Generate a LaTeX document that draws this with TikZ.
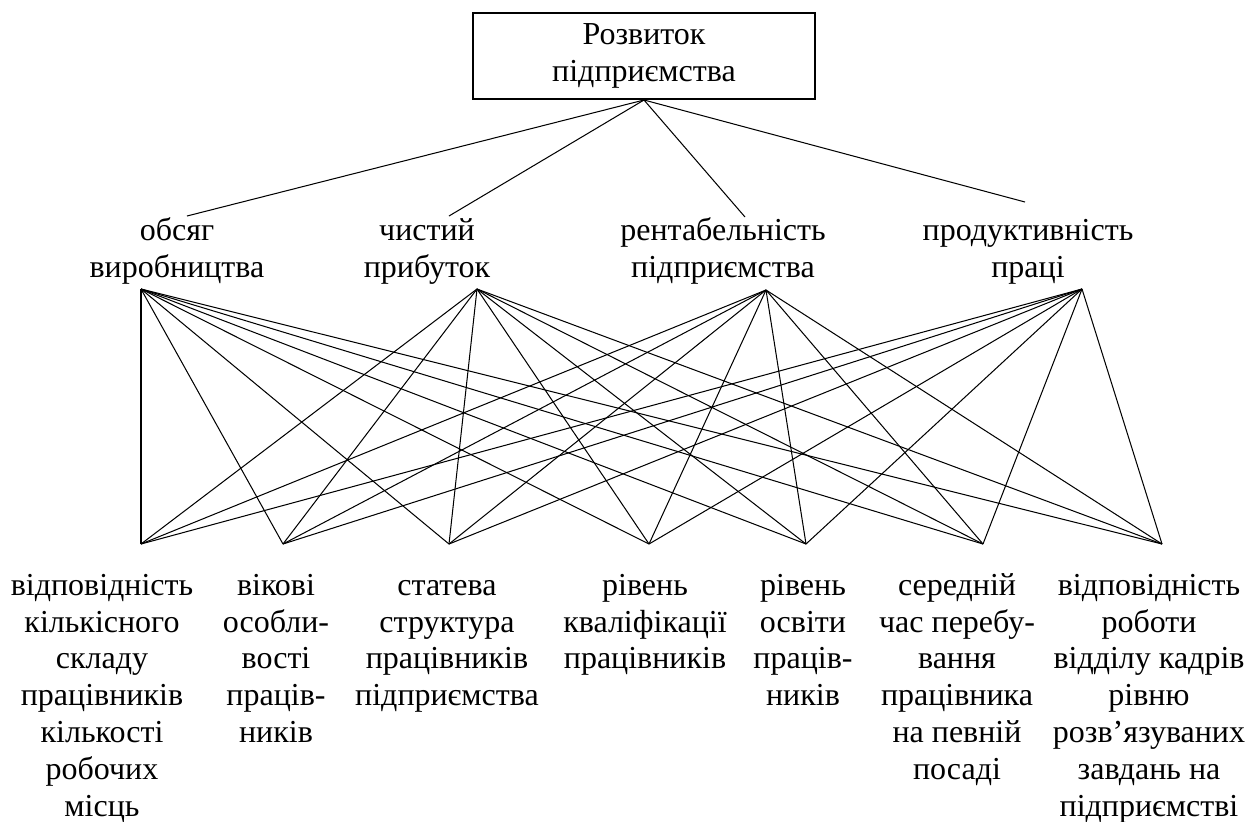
\documentclass[tikz,border=0pt]{standalone}
\usepackage{fontspec}
\setmainfont{Liberation Serif}
\usepackage{tikz}
\tikzset{
	lbl/.style={align=center, anchor=north, inner sep=0pt, font=\fontsize{14}{16.1}\selectfont},
	link/.style={line width=0.45pt},
}

\begin{document}
\begin{tikzpicture}[x=0.4375pt, y=-0.4375pt]
		%%%%% START %%%%%
		\useasboundingbox (0, 0) rectangle (1258, 821);
		
		\node[draw, line width=0.9pt, minimum width=150pt, minimum height=37.6pt, inner sep=0pt, align=center, font=\fontsize{14}{16.1}\selectfont] (rozv) at (644, 56) {Розвиток\\підприємства};
		
		\node[lbl] (obsyag) at (177, 214) {\strut обсяг\\виробництва};
		\node[lbl] (prybutok) at (427, 214) {\strut чистий\\прибуток};
		\node[lbl] (rentab) at (723, 214) {\strut рентабельність\\підприємства};
		\node[lbl] (produkt) at (1028, 214) {\strut продуктивність\\праці};
		
		\coordinate (e1) at (187, 216);
		\coordinate (e2) at (449, 216);
		\coordinate (e3) at (745, 217);
		\coordinate (e4) at (1025, 202);
		
		\coordinate (m1) at (141, 289);
		\coordinate (m2) at (477, 289);
		\coordinate (m3) at (766, 290);
		\coordinate (m4) at (1082, 289);
		
		\coordinate (b1) at (141, 544);
		\coordinate (b2) at (283, 544);
		\coordinate (b3) at (449, 544);
		\coordinate (b4) at (649, 544);
		\coordinate (b5) at (806, 544);
		\coordinate (b6) at (983, 544);
		\coordinate (b7) at (1162, 544);
		
		\node[lbl] (skladu) at (102, 569) {\strut відповідність\\кількісного\\складу\\працівників\\кількості\\робочих\\місць};
		\node[lbl] (vikovi) at (276, 569) {\strut вікові\\особли-\\вості\\праців-\\ників};
		\node[lbl] (stateva) at (447, 569) {\strut статева\\структура\\працівників\\підприємства};
		\node[lbl] (kvalif) at (645, 569) {\strut рівень\\кваліфікації\\працівників};
		\node[lbl] (osvity) at (803, 569) {\strut рівень\\освіти\\праців-\\ників};
		\node[lbl] (posada) at (957, 569) {\strut середній\\час перебу-\\вання\\працівника\\на певній\\посаді};
		\node[lbl] (kadry) at (1149, 569) {\strut відповідність\\роботи\\відділу кадрів\\рівню\\розв’язуваних\\завдань на\\підприємстві};
		
		\foreach \e in {1,...,4}
			\draw[link] (rozv.south) -- (e\e);
		
		\foreach \m in {1,...,4}
			\foreach \b in {1,...,7}
				\draw[link] (m\m) -- (b\b);
		
		%%%%% END %%%%%
\end{tikzpicture}
\end{document}
